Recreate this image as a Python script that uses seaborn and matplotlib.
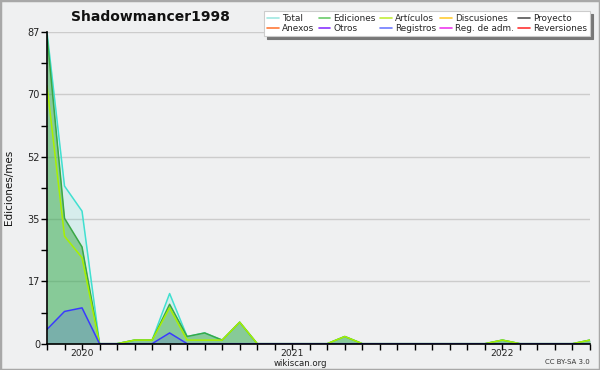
import numpy as np
import pandas as pd
import matplotlib
matplotlib.use("Agg")
import matplotlib.pyplot as plt
from matplotlib.lines import Line2D
from matplotlib.patches import Rectangle
import seaborn as sns

# ---- data (monthly, Nov 2019 .. Jun 2022) ----
months = pd.date_range("2019-11-01", periods=32, freq="MS")
total = [87, 44, 37, 0, 0, 1, 1, 14, 2, 3, 1, 6, 0, 0, 0, 0, 0, 2, 0, 0, 0, 0, 0, 0, 0, 0, 1, 0, 0, 0, 0, 1]
ediciones = [86, 35, 27, 0, 0, 1, 1, 11, 2, 3, 1, 6, 0, 0, 0, 0, 0, 2, 0, 0, 0, 0, 0, 0, 0, 0, 1, 0, 0, 0, 0, 1]
articulos = [72, 30, 24, 0, 0, 1, 1, 10, 1, 1, 1, 6, 0, 0, 0, 0, 0, 2, 0, 0, 0, 0, 0, 0, 0, 0, 1, 0, 0, 0, 0, 1]
registros = [4, 9, 10, 0, 0, 0, 0, 3, 0, 0, 0, 0, 0, 0, 0, 0, 0, 0, 0, 0, 0, 0, 0, 0, 0, 0, 0, 0, 0, 0, 0, 0]
legend_labels = ["Total", "Ediciones", "Artículos", "Discusiones", "Proyecto",
                 "Anexos", "Otros", "Registros", "Reg. de adm.", "Reversiones"]
y_tick_labels = ["0", "17", "35", "52", "70", "87"]
year_labels = ["2020", "2021", "2022"]
title = "Shadowmancer1998"
ymax = 87

line_colors = {"Total": "#40e0d0", "Ediciones": "#3aa845", "Artículos": "#a8f000", "Registros": "#3a3aff"}
legend_colors = {"Total": "#9fe8e2", "Ediciones": "#6acb6a", "Artículos": "#c2ee3a",
                 "Discusiones": "#ffcc33", "Proyecto": "#555555", "Anexos": "#ff7a3a",
                 "Otros": "#8a33ff", "Registros": "#6f7aff", "Reg. de adm.": "#ee3aee",
                 "Reversiones": "#ff3333"}

idx = np.arange(len(months))
df = pd.concat([
    pd.DataFrame({"i": idx, "v": total, "serie": "Total"}),
    pd.DataFrame({"i": idx, "v": ediciones, "serie": "Ediciones"}),
    pd.DataFrame({"i": idx, "v": articulos, "serie": "Artículos"}),
    pd.DataFrame({"i": idx, "v": registros, "serie": "Registros"}),
])

sns.set_theme(style="white")
plt.rcParams["font.family"] = ["DejaVu Sans"]

fig = plt.figure(figsize=(6, 3.7), dpi=100, facecolor="#eff0f1")
fig.patches.append(Rectangle((0, 0), 1, 1, transform=fig.transFigure, fill=False,
                             edgecolor="#a8a8a8", linewidth=2.5, zorder=0))
ax = fig.add_axes([47 / 600, 1 - 343.7 / 370, 543 / 600, (343.7 - 32) / 370])
ax.set_facecolor("#eff0f1")

# fills
ax.fill_between(idx, total, color="#40e0d0", alpha=0.14, linewidth=0, zorder=1)
ax.fill_between(idx, ediciones, color="#3aa845", alpha=0.5, linewidth=0, zorder=2)
ax.fill_between(idx, registros, color="#3a3aff", alpha=0.18, linewidth=0, zorder=3)

sns.lineplot(data=df, x="i", y="v", hue="serie", palette=line_colors,
             hue_order=["Total", "Ediciones", "Artículos", "Registros"],
             linewidth=1.1, legend=False, ax=ax, zorder=4)

ax.set_xlim(0, len(months) - 1)
ax.set_ylim(0, ymax)

# y ticks
yt = [ymax * k / 5 for k in range(6)]
ax.set_yticks(yt)
ax.set_yticklabels(y_tick_labels, fontsize=7, color="#222222")
ax.set_yticks([ymax * (2 * k + 1) / 10 for k in range(5)], minor=True)
ax.yaxis.grid(True, which="major", color="#cccccc", linewidth=1)
ax.set_axisbelow(True)

# x ticks: every month; labels at Januaries
ax.set_xticks(idx)
jan = [i for i, m in enumerate(months) if m.month == 1]
labels = [""] * len(idx)
for j, lab in zip(jan, year_labels):
    labels[j] = lab
ax.set_xticklabels(labels, fontsize=6.6, color="#222222")

ax.tick_params(axis="both", which="both", direction="out", length=4, width=1,
               color="black", left=True, bottom=True)
ax.tick_params(axis="x", pad=0)
ax.tick_params(axis="y", pad=1)
for s in ["top", "right"]:
    ax.spines[s].set_visible(False)
for s in ["left", "bottom"]:
    ax.spines[s].set_color("black")
    ax.spines[s].set_linewidth(1.2)
    ax.spines[s].set_zorder(10)
ax.set_xlabel("")
ax.set_ylabel("Ediciones/mes", fontsize=7.5, color="#111111")
ax.yaxis.set_label_coords(-0.06, 0.5)

# legend
order = ["Total", "Anexos", "Ediciones", "Otros", "Artículos", "Registros",
         "Discusiones", "Reg. de adm.", "Proyecto", "Reversiones"]
handles = [Line2D([], [], color=legend_colors[n], linewidth=1.2) for n in order]
leg = fig.legend(handles, order, ncol=5, loc="upper right",
                 bbox_to_anchor=(590 / 600, 1 - 11 / 370), fontsize=6.4,
                 frameon=True, fancybox=False, shadow={"color": "#777777", "alpha": 1},
                 handlelength=1.3, handletextpad=0.35, columnspacing=0.5,
                 labelspacing=0.1, borderpad=0.35, borderaxespad=0)
leg.get_frame().set_edgecolor("#cccccc")
leg.get_frame().set_facecolor("white")
leg.get_frame().set_linewidth(0.8)

fig.text(150 / 600, 1 - 17 / 370, title, fontsize=10, fontweight="bold",
         ha="center", va="center", color="#111111")
fig.text(300 / 600, 1 - 363.5 / 370, "wikiscan.org", fontsize=6.2, ha="center",
         va="center", color="#222222")
fig.text(590 / 600, 1 - 362 / 370, "CC BY-SA 3.0", fontsize=5, ha="right",
         va="center", color="#333333")

fig.savefig("out.png", dpi=100, facecolor=fig.get_facecolor())
